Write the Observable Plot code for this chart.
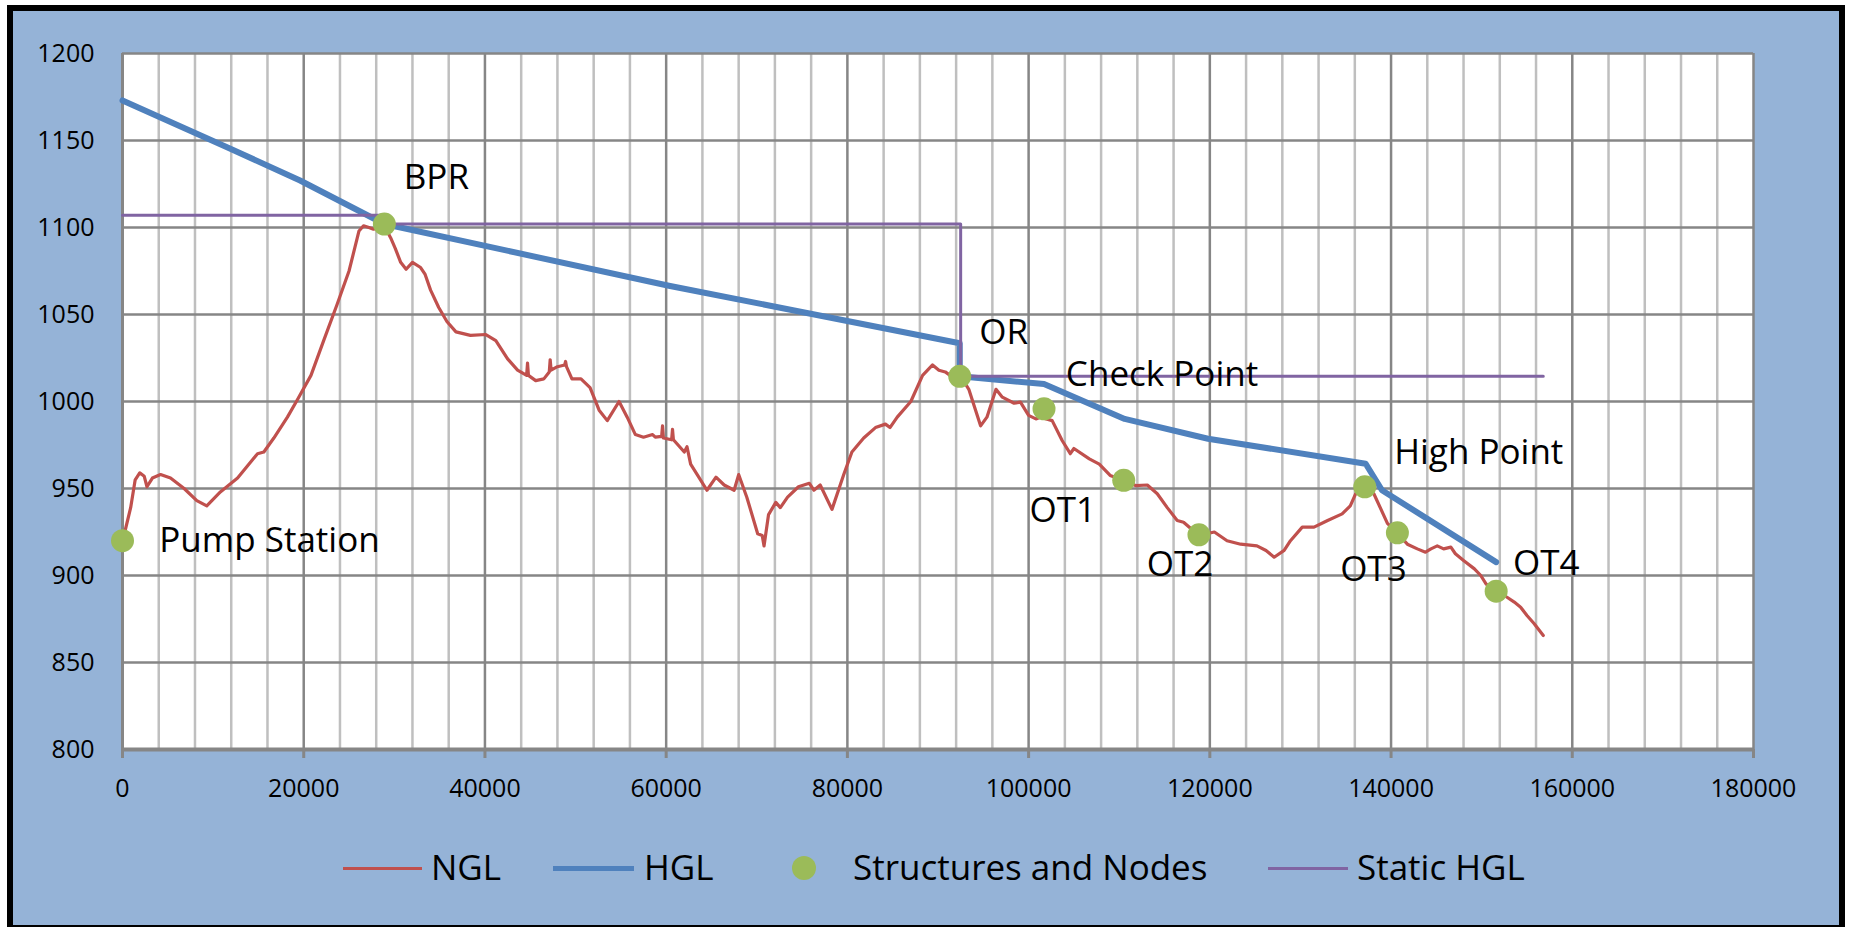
<!DOCTYPE html>
<html>
<head>
<meta charset="utf-8">
<script src="https://cdn.jsdelivr.net/npm/d3@7"></script>
<script src="https://cdn.jsdelivr.net/npm/@observablehq/plot@0.6"></script>
<style>
  html, body { margin: 0; padding: 0; background: #ffffff; overflow: hidden; width: 1849px; height: 927px; }
  #frame { position: absolute; left: 7px; top: 5px; width: 1838px; height: 926px; box-sizing: border-box; border: 6px solid #000; background: #95B3D7; }
  #chart { position: absolute; left: 0; top: 0; }
  #legend { position: absolute; left: 0; top: 844px; width: 1849px; height: 46px; font-family: "Open Sans", sans-serif; font-size: 35px; color: #000; }
  .lg-text { position: absolute; top: 0; line-height: 46px; white-space: nowrap; }
  .lg-line { position: absolute; }
  .lg-dot { position: absolute; border-radius: 50%; }
</style>
</head>
<body>
<div id="frame"></div>
<div id="chart"></div>
<div id="legend"></div>
<script>
// ---------- data ----------
const nglX = [0,300,900,1400,1900,2400,2700,3300,4200,5300,6800,8200,9300,10800,12700,14100,14900,15600,16700,18200,19300,20800,22200,23700,25000,26100,26600,27200,27700,28200,28800,29600,30100,30700,31300,32000,32900,33400,34000,34900,35800,36800,38400,40100,41200,42500,43600,44600,44700,44800,45600,46500,47100,47200,47300,48000,48800,48900,49000,49600,50600,51600,52600,53500,54800,55700,56600,57500,58500,58800,59500,59600,59700,60600,60700,60800,62000,62300,62700,63600,64500,65500,66400,67500,68000,68900,70100,70600,70800,71300,72100,72600,73400,74600,75800,76300,77000,78300,79600,80500,81800,83100,84200,84700,85500,87000,88300,89400,90100,90800,91600,92500,93400,94700,95400,96400,97100,98400,99100,100000,100800,101300,102600,103700,104600,105000,106700,107800,109000,110500,111800,113100,114200,115300,116400,117100,118800,120500,121900,123400,125200,126200,127100,128200,128900,130200,131500,133000,134600,135500,136100,137000,138100,139600,140700,141800,142900,143800,144400,145100,145800,146600,147100,148000,149200,149900,150500,151600,152800,153600,154300,155000,155800,156800];
const nglY = [920,926,939,955,959,957,951,956,958,956,950,943,940,948,956,965,970,971,979,991,1001,1015,1035,1056,1075,1098,1101,1100,1099,1100,1102,1094,1088,1080,1076,1080,1077,1073,1064,1054,1046,1040,1038,1038.5,1035,1024.5,1018,1015,1022,1015,1012,1013,1017,1024,1018,1020,1021,1023,1020,1013,1013,1008,995,989,1000,991,981,979.5,981,979.5,980,986,979,978,984,978,971,974,964,956.5,949,956.5,952,949,958,945,924,923,917,935,942,939,945,951,953,949,952,938,958,971,979,985,987,985,991,1000,1015,1021,1018,1017,1014,1014.5,1007,986,991,1007,1002.5,999,999.6,992,990,991,989,977.6,970,973,967,964,957.5,954.6,951.7,952,947,939,931.6,930.6,923,925,920,918,917,914.4,910.5,914.4,920,927.8,927.8,931.6,935.4,940,947,951,947,930,924.3,918,915.3,913.4,915.3,917,915.3,916.3,912.5,908.6,903.8,900,895,891.4,887.5,884.7,881.8,877,872.3,865.5];

const hglX = [0,11600,19600,28900,60300,92400,92400,101700,110600,119800,137200,139000,151600];
const hglY = [1173,1146,1127,1102,1066.5,1033.5,1014.5,1010,990,978.6,964.2,949,907.7];

const staticX = [0,28900,28900,92500,92500,156800];
const staticY = [1107,1107,1102,1102,1014.5,1014.5];

const nodeNames = ["Pump Station","BPR","OR","Check Point","OT1","OT2","High Point","OT3","OT4"];
const nodeX = [0,28900,92400,101700,110500,118800,137100,140700,151600];
const nodeY = [920,1102,1014.5,995.8,954.7,923.4,951,924.5,891];

const xTicks = [0,20000,40000,60000,80000,100000,120000,140000,160000,180000];
const yTicks = [800,850,900,950,1000,1050,1100,1150,1200];

const seriesNames = ["NGL","HGL","Structures and Nodes","Static HGL"];

// ---------- styling / layout ----------
const colors = { ngl: "#C0504D", hgl: "#4F81BD", node: "#9BBB59", stat: "#8064A2", major: "#868686", minor: "#BFBFBF" };
const labelOffset = {
  "Pump Station": [147, 0], "BPR": [52, -46], "OR": [44, -43], "Check Point": [118, -34],
  "OT1": [-61, 30], "OT2": [-19, 30], "High Point": [114, -34], "OT3": [-24, 37], "OT4": [50, -27]
};

const ngl = nglX.map((x, i) => ({x, y: nglY[i]}));
const hgl = hglX.map((x, i) => ({x, y: hglY[i]}));
const stat = staticX.map((x, i) => ({x, y: staticY[i]}));
const nodes = nodeNames.map((name, i) => ({name, x: nodeX[i], y: nodeY[i]}));
const xMinor = d3.range(0, 180001, 4000).filter(v => v % 20000 !== 0);

const labelMarks = nodes.map(n => Plot.text([n], {
  x: "x", y: "y", text: "name", dx: labelOffset[n.name][0], dy: labelOffset[n.name][1],
  textAnchor: "middle", fontSize: 35, fill: "#000"
}));

const chart = Plot.plot({
  width: 1849, height: 800,
  marginLeft: 122, marginRight: 96, marginTop: 53, marginBottom: 51,
  x: {domain: [0, 180000], label: null},
  y: {domain: [800, 1200], label: null},
  style: {background: "transparent", fontFamily: "'Open Sans', sans-serif", color: "#000", overflow: "visible"},
  marks: [
    Plot.frame({fill: "#ffffff", stroke: "none"}),
    Plot.ruleX(xMinor, {stroke: colors.minor, strokeWidth: 2.5}),
    Plot.ruleY(yTicks, {stroke: colors.major, strokeWidth: 2.5}),
    Plot.ruleX(xTicks, {stroke: colors.major, strokeWidth: 2.5}),
    Plot.ruleX([0], {stroke: colors.major, strokeWidth: 3}),
    Plot.ruleY([800], {stroke: colors.major, strokeWidth: 4}),
    Plot.axisY({ticks: yTicks, tickSize: 0, tickPadding: 28, tickFormat: "d", fontSize: 25, fill: "#000", label: null}),
    Plot.axisX({ticks: xTicks, tickSize: 9, tickPadding: 21, tickFormat: "d", fontSize: 25, stroke: colors.major, strokeWidth: 3, fill: "#000", label: null}),
    Plot.line(ngl, {x: "x", y: "y", stroke: colors.ngl, strokeWidth: 3.2, strokeLinejoin: "round"}),
    Plot.line(hgl, {x: "x", y: "y", stroke: colors.hgl, strokeWidth: 6, strokeLinejoin: "round"}),
    Plot.line(stat, {x: "x", y: "y", stroke: colors.stat, strokeWidth: 3}),
    Plot.dot(nodes, {x: "x", y: "y", r: 11.5, fill: colors.node, stroke: "none"}),
    ...labelMarks
  ]
});
document.getElementById("chart").appendChild(chart);

// ---------- legend ----------
const legend = document.getElementById("legend");
const legendLayout = [
  {kind: "line", color: colors.ngl, left: 343, width: 79, thick: 3, textLeft: 431},
  {kind: "line", color: colors.hgl, left: 553, width: 81, thick: 5, textLeft: 644},
  {kind: "dot", color: colors.node, left: 792, width: 24, thick: 24, textLeft: 853},
  {kind: "line", color: colors.stat, left: 1268, width: 80, thick: 3, textLeft: 1357}
];
seriesNames.forEach((name, i) => {
  const L = legendLayout[i];
  const sw = document.createElement("div");
  sw.className = L.kind === "dot" ? "lg-dot" : "lg-line";
  sw.style.left = L.left + "px";
  sw.style.width = L.width + "px";
  sw.style.height = L.thick + "px";
  sw.style.top = (24 - L.thick / 2) + "px";
  sw.style.background = L.color;
  legend.appendChild(sw);
  const t = document.createElement("div");
  t.className = "lg-text";
  t.style.left = L.textLeft + "px";
  t.textContent = name;
  legend.appendChild(t);
});
</script>
</body>
</html>
